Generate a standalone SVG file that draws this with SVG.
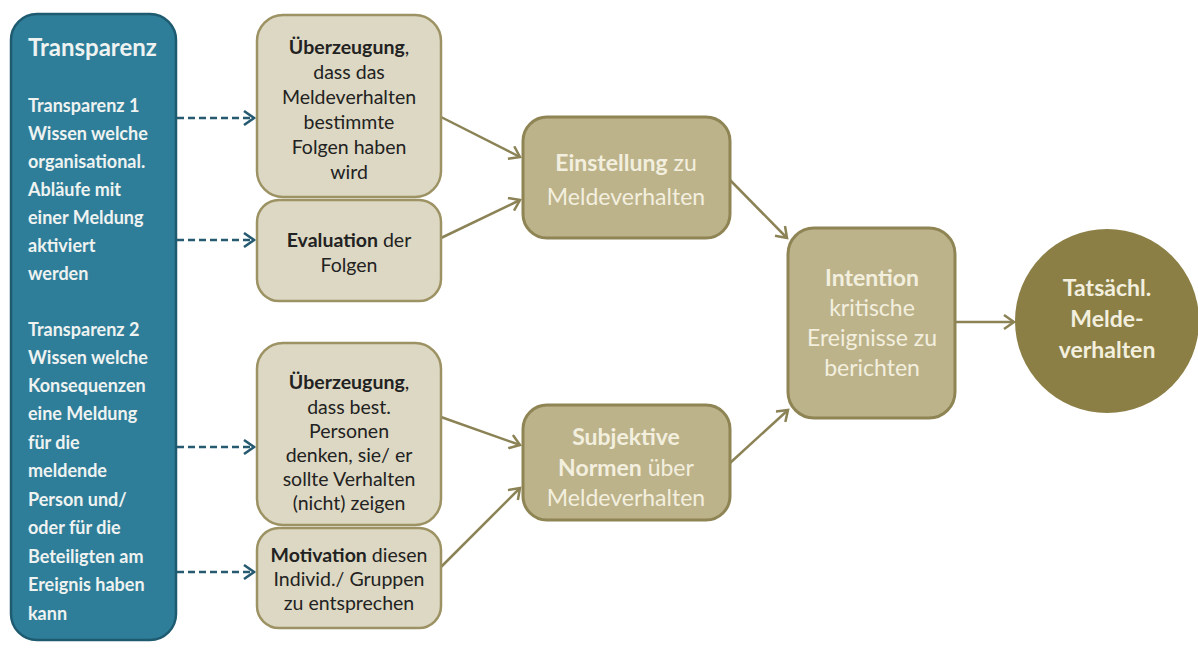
<svg xmlns="http://www.w3.org/2000/svg" width="1198" height="649" viewBox="0 0 1198 649">
<defs>
<style>
text{font-family:Lato,"Liberation Sans",sans-serif;}
.bt{fill:#eef3f1;font-size:18px;font-weight:bold;}
.tt{fill:#eef3f1;font-size:24px;font-weight:bold;}
.lt{fill:#222;font-size:19.5px;text-anchor:middle;}
.mt{fill:#f3efdf;font-size:23px;text-anchor:middle;}
.b{font-weight:bold;}
.light{fill:#ddd8c3;stroke:#9c9263;stroke-width:2.5;}
.mid{fill:#bdb38b;stroke:#8e8454;stroke-width:3;}
.olive{stroke:#8b8255;stroke-width:2.5;fill:none;}
.dash{stroke:#265a70;stroke-width:2.5;fill:none;stroke-dasharray:7 4;}
</style>
<marker id="ao" markerWidth="16" markerHeight="16" refX="12" refY="8" orient="auto" markerUnits="userSpaceOnUse">
<path d="M2,1 L12,8 L2,15" fill="none" stroke="#8b8255" stroke-width="2.5"/>
</marker>
<marker id="ab" markerWidth="16" markerHeight="16" refX="12" refY="8" orient="auto" markerUnits="userSpaceOnUse">
<path d="M2,1 L12,8 L2,15" fill="none" stroke="#265a70" stroke-width="2.5"/>
</marker>
</defs>
<rect width="1198" height="649" fill="#ffffff"/>

<g id="connectors">
<line class="dash" x1="177" y1="118" x2="254" y2="118" marker-end="url(#ab)"/>
<line class="dash" x1="177" y1="240" x2="254" y2="240" marker-end="url(#ab)"/>
<line class="dash" x1="177" y1="447" x2="254" y2="447" marker-end="url(#ab)"/>
<line class="dash" x1="177" y1="572" x2="254" y2="572" marker-end="url(#ab)"/>
<line class="olive" x1="441" y1="117" x2="520" y2="157" marker-end="url(#ao)"/>
<line class="olive" x1="441" y1="238" x2="520" y2="200" marker-end="url(#ao)"/>
<line class="olive" x1="730" y1="180" x2="787" y2="238" marker-end="url(#ao)"/>
<line class="olive" x1="441" y1="417" x2="520" y2="445" marker-end="url(#ao)"/>
<line class="olive" x1="441" y1="567" x2="520" y2="488" marker-end="url(#ao)"/>
<line class="olive" x1="730" y1="463" x2="788" y2="410" marker-end="url(#ao)"/>
<line class="olive" x1="955" y1="322" x2="1014" y2="322" marker-end="url(#ao)"/>
</g>

<g id="transparenz">
<rect x="11" y="14" width="165" height="626" rx="26" fill="#2e7e99" stroke="#1e5b71" stroke-width="2.5"/>
<text class="tt" x="28" y="56">Transparenz</text>
<text class="bt" x="28" y="112">Transparenz 1</text>
<text class="bt" x="28" y="140">Wissen welche</text>
<text class="bt" x="28" y="168">organisational.</text>
<text class="bt" x="28" y="196">Abläufe mit</text>
<text class="bt" x="28" y="224">einer Meldung</text>
<text class="bt" x="28" y="252">aktiviert</text>
<text class="bt" x="28" y="280">werden</text>
<text class="bt" x="28" y="336">Transparenz 2</text>
<text class="bt" x="28" y="364">Wissen welche</text>
<text class="bt" x="28" y="392">Konsequenzen</text>
<text class="bt" x="28" y="420">eine Meldung</text>
<text class="bt" x="28" y="449">für die</text>
<text class="bt" x="28" y="477">meldende</text>
<text class="bt" x="28" y="506">Person und/</text>
<text class="bt" x="28" y="534">oder für die</text>
<text class="bt" x="28" y="563">Beteiligten am</text>
<text class="bt" x="28" y="591">Ereignis haben</text>
<text class="bt" x="28" y="620">kann</text>
</g>

<g id="ueberzeugung1">
<rect class="light" x="257" y="15" width="184" height="182" rx="26"/>
<text class="lt" x="349" y="54"><tspan class="b">Überzeugung</tspan>,</text>
<text class="lt" x="349" y="79">dass das</text>
<text class="lt" x="349" y="104">Meldeverhalten</text>
<text class="lt" x="349" y="129">bestimmte</text>
<text class="lt" x="349" y="154">Folgen haben</text>
<text class="lt" x="349" y="179">wird</text>
</g>

<g id="evaluation">
<rect class="light" x="257" y="200" width="184" height="101" rx="22"/>
<text class="lt" x="349" y="247"><tspan class="b">Evaluation</tspan> der</text>
<text class="lt" x="349" y="272">Folgen</text>
</g>

<g id="ueberzeugung2">
<rect class="light" x="257" y="343" width="184" height="182" rx="26"/>
<text class="lt" x="349" y="389"><tspan class="b">Überzeugung</tspan>,</text>
<text class="lt" x="349" y="414">dass best.</text>
<text class="lt" x="349" y="438">Personen</text>
<text class="lt" x="349" y="462">denken, sie/ er</text>
<text class="lt" x="349" y="486">sollte Verhalten</text>
<text class="lt" x="349" y="510">(nicht) zeigen</text>
</g>

<g id="motivation">
<rect class="light" x="257" y="528" width="184" height="100" rx="22"/>
<text class="lt" x="349" y="562"><tspan class="b">Motivation</tspan> diesen</text>
<text class="lt" x="349" y="586">Individ./ Gruppen</text>
<text class="lt" x="349" y="610">zu entsprechen</text>
</g>

<g id="einstellung">
<rect class="mid" x="523" y="117" width="207" height="121" rx="24"/>
<text class="mt" x="626" y="171"><tspan class="b">Einstellung</tspan> zu</text>
<text class="mt" x="626" y="205">Meldeverhalten</text>
</g>

<g id="normen">
<rect class="mid" x="523" y="405" width="207" height="115" rx="24"/>
<text class="mt b" x="626" y="445">Subjektive</text>
<text class="mt" x="626" y="476"><tspan class="b">Normen</tspan> über</text>
<text class="mt" x="626" y="506">Meldeverhalten</text>
</g>

<g id="intention">
<rect class="mid" x="788" y="228" width="167" height="190" rx="26"/>
<text class="mt b" x="872" y="286">Intention</text>
<text class="mt" x="872" y="316">kritische</text>
<text class="mt" x="872" y="346">Ereignisse zu</text>
<text class="mt" x="872" y="376">berichten</text>
</g>

<g id="verhalten">
<circle cx="1107" cy="321" r="92" fill="#8b7f45"/>
<text class="mt b" x="1107" y="296">Tatsächl.</text>
<text class="mt b" x="1107" y="327">Melde-</text>
<text class="mt b" x="1107" y="358">verhalten</text>
</g>
</svg>
